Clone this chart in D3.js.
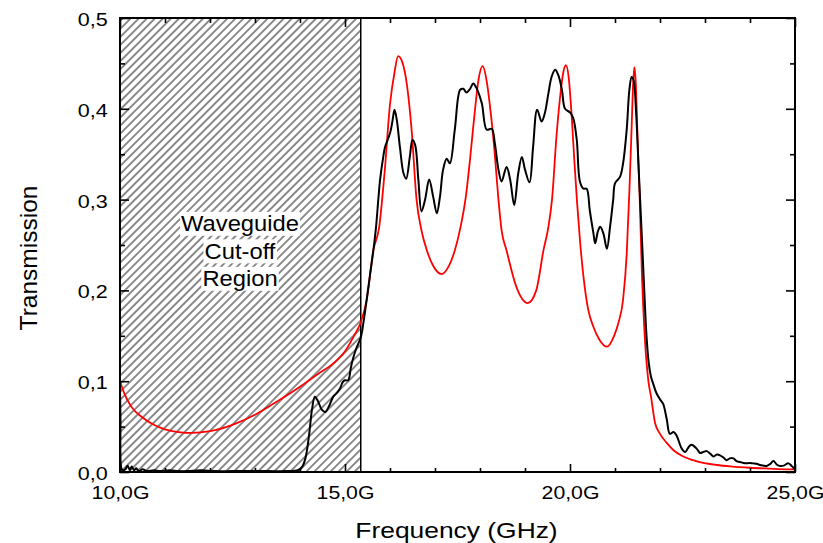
<!DOCTYPE html>
<html><head><meta charset="utf-8">
<script src="https://cdn.jsdelivr.net/npm/d3@7"></script>
<style>
html,body{margin:0;padding:0;background:#fff;}
svg{display:block;}
text{font-family:"Liberation Sans",Arial,sans-serif;fill:#000;}
</style></head>
<body>
<svg id="chart" width="823" height="543"></svg>
<script>
// ---- data ----
const xMajorTicks = [10, 15, 20, 25];
const xMinorTicks = [11, 12, 13, 14, 16, 17, 18, 19, 21, 22, 23, 24];
const yMajorTicks = [0, 0.1, 0.2, 0.3, 0.4, 0.5];
const yMinorTicks = [0.05, 0.15, 0.25, 0.35, 0.45];
const xTickLabels = ["10,0G", "15,0G", "20,0G", "25,0G"];
const yTickLabels = ["0,0", "0,1", "0,2", "0,3", "0,4", "0,5"];
const cutoffFreq = 15.35;
const regionLabel = ["Waveguide", "Cut-off", "Region"];

// model (red) curve
const modelFreq = [10.0,10.1,10.25,10.5,10.75,11.0,11.3,11.6,12.0,12.5,13.0,13.5,14.0,14.4,14.7,15.0,15.2,15.35,15.48,15.63,15.76,15.88,16.0,16.1,16.18,16.27,16.38,16.48,16.59,16.7,16.82,16.95,17.15,17.32,17.44,17.56,17.69,17.78,17.88,17.97,18.06,18.15,18.24,18.32,18.41,18.48,18.59,18.8,19.06,19.25,19.41,19.52,19.6,19.7,19.78,19.85,19.91,19.97,20.04,20.1,20.16,20.23,20.3,20.4,20.52,20.65,20.82,20.98,21.08,21.18,21.26,21.32,21.37,21.4,21.43,21.46,21.5,21.55,21.6,21.66,21.74,21.8,21.89,22.0,22.15,22.3,22.52,22.8,23.26,23.6,24.0,24.4,24.84,25.0];
const modelT    = [0.100,0.086,0.072,0.060,0.052,0.047,0.044,0.043,0.045,0.052,0.063,0.078,0.094,0.108,0.118,0.133,0.150,0.165,0.189,0.244,0.270,0.330,0.405,0.440,0.458,0.452,0.425,0.377,0.300,0.266,0.244,0.228,0.218,0.228,0.244,0.268,0.305,0.345,0.395,0.433,0.447,0.430,0.395,0.355,0.300,0.266,0.244,0.205,0.186,0.200,0.244,0.270,0.300,0.370,0.413,0.440,0.448,0.435,0.390,0.340,0.295,0.250,0.215,0.180,0.160,0.146,0.138,0.150,0.165,0.190,0.240,0.310,0.380,0.425,0.446,0.430,0.370,0.300,0.215,0.150,0.101,0.083,0.054,0.042,0.032,0.024,0.017,0.012,0.0077,0.006,0.0047,0.0038,0.003,0.003];

// measured (black) curve
const measFreq = [10.0,10.01,10.03,10.06,10.12,10.17,10.22,10.26,10.31,10.36,10.42,10.5,10.6,10.75,10.9,11.1,11.3,11.5,11.8,12.1,12.5,12.9,13.3,13.7,13.95,14.05,14.12,14.2,14.27,14.33,14.4,14.48,14.56,14.65,14.74,14.8,14.89,14.95,15.0,15.07,15.13,15.19,15.25,15.35,15.42,15.48,15.55,15.63,15.69,15.74,15.78,15.85,15.89,16.0,16.05,16.1,16.15,16.22,16.3,16.36,16.44,16.5,16.56,16.63,16.7,16.78,16.87,16.96,17.04,17.11,17.18,17.26,17.33,17.44,17.56,17.63,17.7,17.78,17.85,17.93,18.04,18.15,18.26,18.33,18.41,18.48,18.59,18.67,18.76,18.85,18.93,19.0,19.1,19.18,19.27,19.37,19.44,19.52,19.59,19.67,19.74,19.82,19.89,20.0,20.07,20.15,20.22,20.3,20.37,20.44,20.52,20.56,20.62,20.67,20.74,20.82,20.89,20.96,21.0,21.11,21.18,21.26,21.32,21.37,21.41,21.47,21.52,21.59,21.65,21.7,21.75,21.8,21.85,21.92,22.0,22.07,22.15,22.22,22.3,22.37,22.48,22.56,22.63,22.7,22.81,22.89,22.96,23.04,23.12,23.19,23.25,23.3,23.41,23.48,23.55,23.63,23.7,23.78,23.85,23.93,24.0,24.07,24.15,24.22,24.3,24.37,24.45,24.52,24.6,24.67,24.75,24.85,24.92,24.96,25.0];
const measT    = [0.095,0.060,0.004,0.002,0.003,0.007,0.002,0.006,0.002,0.004,0.001,0.003,0.001,0.002,0.001,0.002,0.001,0.001,0.002,0.001,0.001,0.001,0.001,0.001,0.002,0.006,0.015,0.040,0.070,0.083,0.078,0.069,0.066,0.073,0.083,0.086,0.092,0.099,0.101,0.101,0.115,0.127,0.136,0.148,0.168,0.189,0.215,0.244,0.270,0.300,0.322,0.347,0.358,0.373,0.385,0.399,0.388,0.358,0.329,0.323,0.347,0.366,0.360,0.322,0.287,0.300,0.322,0.303,0.285,0.303,0.333,0.345,0.340,0.377,0.421,0.422,0.418,0.422,0.428,0.422,0.406,0.377,0.378,0.362,0.333,0.320,0.336,0.322,0.294,0.329,0.347,0.333,0.319,0.358,0.399,0.386,0.395,0.417,0.435,0.443,0.437,0.421,0.400,0.396,0.390,0.366,0.320,0.312,0.312,0.288,0.263,0.252,0.265,0.270,0.263,0.246,0.270,0.300,0.318,0.325,0.340,0.377,0.421,0.435,0.432,0.395,0.340,0.266,0.200,0.150,0.120,0.105,0.097,0.087,0.080,0.075,0.058,0.042,0.044,0.040,0.026,0.022,0.027,0.030,0.026,0.021,0.022,0.023,0.020,0.017,0.019,0.019,0.016,0.013,0.015,0.015,0.012,0.011,0.010,0.0095,0.010,0.0095,0.009,0.0077,0.007,0.0066,0.009,0.012,0.008,0.0066,0.007,0.0095,0.007,0.005,0.003];

// ---- drawing ----
const svg = d3.select("#chart");
const X0 = 120, X1 = 795, Y0 = 472, Y1 = 18;
const x = d3.scaleLinear().domain([10, 25]).range([X0, X1]);
const y = d3.scaleLinear().domain([0, 0.5]).range([Y0, Y1]);
const FONT = '"Liberation Sans", Arial, sans-serif';

const HS = 5.7;
const defs = svg.append("defs");
const pat = defs.append("pattern").attr("id", "hatch")
  .attr("patternUnits", "userSpaceOnUse")
  .attr("width", HS).attr("height", HS)
  .attr("patternTransform", "rotate(45)");
pat.append("rect").attr("width", HS).attr("height", HS).attr("fill", "#fff");
pat.append("line").attr("x1", HS / 2).attr("y1", -1).attr("x2", HS / 2).attr("y2", HS + 1)
  .attr("stroke", "#000").attr("stroke-width", 0.9);
defs.append("clipPath").attr("id", "clip").append("rect")
  .attr("x", X0).attr("y", Y1).attr("width", X1 - X0).attr("height", Y0 - Y1);

// hatched cut-off region
svg.append("rect")
  .attr("x", x(10)).attr("y", y(0.5))
  .attr("width", x(cutoffFreq) - x(10)).attr("height", y(0) - y(0.5))
  .attr("fill", "url(#hatch)").attr("stroke", "#000").attr("stroke-width", 1.5);

// region label with white boxes
const labG = svg.append("g");
const baselines = [231, 258.5, 286];
regionLabel.forEach((t, i) => {
  const g = labG.append("g").attr("transform", `translate(240,${baselines[i]}) scale(1.08,1)`);
  const tx = g.append("text").attr("text-anchor", "middle").attr("font-size", 22).text(t);
  const bb = tx.node().getBBox();
  g.insert("rect", "text").attr("x", bb.x - 1).attr("y", bb.y + 1)
    .attr("width", bb.width + 2).attr("height", bb.height - 1).attr("fill", "#fff");
});

// curves
const plotG = svg.append("g").attr("clip-path", "url(#clip)");
const modelPts = modelFreq.map((f, i) => [f, modelT[i]]);
const measPts = measFreq.map((f, i) => [f, measT[i]]);
plotG.append("path").datum(modelPts)
  .attr("fill", "none").attr("stroke", "#ff0000").attr("stroke-width", 1.8)
  .attr("d", d3.line().x(d => x(d[0])).y(d => y(d[1])).curve(d3.curveMonotoneX));
plotG.append("path").datum(measPts)
  .attr("fill", "none").attr("stroke", "#000").attr("stroke-width", 2)
  .attr("stroke-linejoin", "round")
  .attr("d", d3.line().x(d => x(d[0])).y(d => y(d[1])).curve(d3.curveCatmullRom.alpha(0.5)));

// axes (ticks pointing inward)
function styleAxis(g) {
  g.select(".domain").remove();
  g.selectAll(".tick line").attr("stroke", "#000").attr("stroke-width", 1.6);
}
// bottom
svg.append("g").attr("transform", `translate(0,${Y0})`)
  .call(d3.axisBottom(x).tickValues(xMajorTicks).tickSize(-8).tickFormat((d, i) => xTickLabels[i]))
  .call(styleAxis)
  .call(g => g.selectAll(".tick text").attr("y", 27).attr("dy", null)
      .attr("font-size", 18).attr("font-family", FONT).attr("fill", "#000")
      .attr("transform", "scale(1.18,1)"));
svg.append("g").attr("transform", `translate(0,${Y0})`)
  .call(d3.axisBottom(x).tickValues(xMinorTicks).tickSize(-4).tickFormat(""))
  .call(styleAxis);
// top
svg.append("g").attr("transform", `translate(0,${Y1})`)
  .call(d3.axisTop(x).tickValues(xMajorTicks).tickSize(-9).tickFormat(""))
  .call(styleAxis);
svg.append("g").attr("transform", `translate(0,${Y1})`)
  .call(d3.axisTop(x).tickValues(xMinorTicks).tickSize(-5).tickFormat(""))
  .call(styleAxis);
// left
svg.append("g").attr("transform", `translate(${X0},0)`)
  .call(d3.axisLeft(y).tickValues(yMajorTicks).tickSize(-9).tickFormat((d, i) => yTickLabels[i]))
  .call(styleAxis)
  .call(g => g.selectAll(".tick text").attr("x", -10.5).attr("dy", null).attr("y", 7.5)
      .attr("font-size", 18.6).attr("font-family", FONT).attr("fill", "#000")
      .attr("transform", "scale(1.16,1)"));
svg.append("g").attr("transform", `translate(${X0},0)`)
  .call(d3.axisLeft(y).tickValues(yMinorTicks).tickSize(-5).tickFormat(""))
  .call(styleAxis);
// right
svg.append("g").attr("transform", `translate(${X1},0)`)
  .call(d3.axisRight(y).tickValues(yMajorTicks).tickSize(-9).tickFormat(""))
  .call(styleAxis);
svg.append("g").attr("transform", `translate(${X1},0)`)
  .call(d3.axisRight(y).tickValues(yMinorTicks).tickSize(-5).tickFormat(""))
  .call(styleAxis);

// frame
svg.append("rect").attr("x", X0).attr("y", Y1).attr("width", X1 - X0).attr("height", Y0 - Y1)
  .attr("fill", "none").attr("stroke", "#000").attr("stroke-width", 2);

// axis titles
svg.append("g").attr("transform", "translate(456.5,538) scale(1.2,1)")
  .append("text").attr("text-anchor", "middle").attr("font-size", 22).text("Frequency (GHz)");
svg.append("text").attr("transform", "translate(37,258) rotate(-90)")
  .attr("text-anchor", "middle").attr("font-size", 24.5).text("Transmission");
</script>
</body></html>
